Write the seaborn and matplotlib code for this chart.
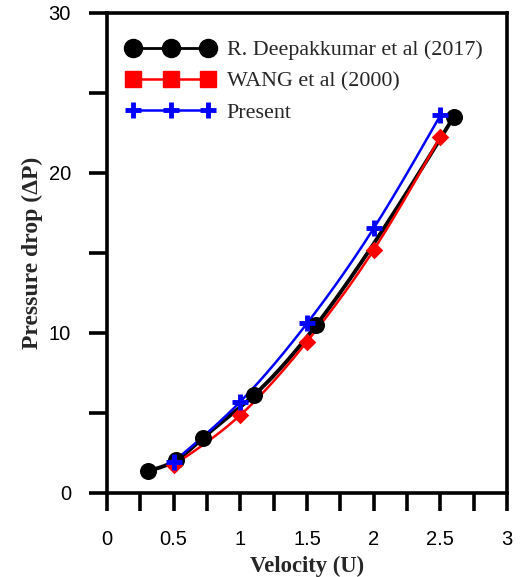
import numpy as np
import pandas as pd
import seaborn as sns
import matplotlib
matplotlib.use("Agg")
import matplotlib.pyplot as plt
from matplotlib.lines import Line2D

# Pressure drop against inlet velocity for three data sets
deepak_u = [0.31, 0.52, 0.72, 1.10, 1.57, 2.60]
deepak_dp = [1.39, 2.06, 3.44, 6.10, 10.50, 23.50]

wang_u = [0.5, 1.0, 1.5, 2.0, 2.5]
wang_dp = [1.75, 4.87, 9.46, 15.19, 22.27]

present_u = [0.5, 1.0, 1.5, 2.0, 2.5]
present_dp = [1.96, 5.71, 10.60, 16.54, 23.60]

series_names = ["R. Deepakkumar et al (2017)", "WANG et al (2000)", "Present"]
x_ticks = [0, 0.5, 1, 1.5, 2, 2.5, 3]
y_ticks = [0, 10, 20, 30]


def natural_spline(x, y, n=200):
    """Smooth curve through the given points (natural cubic spline)."""
    x = np.asarray(x, float)
    y = np.asarray(y, float)
    m = len(x)
    h = np.diff(x)
    A = np.zeros((m, m))
    b = np.zeros(m)
    A[0, 0] = A[-1, -1] = 1.0
    for i in range(1, m - 1):
        A[i, i - 1] = h[i - 1]
        A[i, i] = 2 * (h[i - 1] + h[i])
        A[i, i + 1] = h[i]
        b[i] = 3 * ((y[i + 1] - y[i]) / h[i] - (y[i] - y[i - 1]) / h[i - 1])
    c = np.linalg.solve(A, b)
    xs = np.linspace(x[0], x[-1], n)
    idx = np.clip(np.searchsorted(x, xs) - 1, 0, m - 2)
    dx = xs - x[idx]
    bb = (y[idx + 1] - y[idx]) / h[idx] - h[idx] * (2 * c[idx] + c[idx + 1]) / 3
    dd = (c[idx + 1] - c[idx]) / (3 * h[idx])
    ys = y[idx] + bb * dx + c[idx] * dx ** 2 + dd * dx ** 3
    return xs, ys


sns.set_theme(style="white")
plt.rcParams["font.family"] = ["Liberation Sans", "DejaVu Sans"]

fig = plt.figure(figsize=(5.2, 5.77), dpi=100)
ax = fig.add_axes([0.2058, 0.1456, 0.7692, 0.8319])

df_deepak = pd.DataFrame({"u": deepak_u, "dp": deepak_dp})
df_wang = pd.DataFrame({"u": wang_u, "dp": wang_dp})
df_present = pd.DataFrame({"u": present_u, "dp": present_dp})

# smooth connecting curves
for df, col, lw in [(df_deepak, "black", 2.8), (df_wang, "#ff0000", 1.8),
                    (df_present, "#0000ff", 1.8)]:
    xs, ys = natural_spline(df["u"], df["dp"])
    ax.plot(xs, ys, color=col, lw=lw, zorder=2, solid_capstyle="round")

# markers
sns.scatterplot(data=df_deepak, x="u", y="dp", ax=ax, marker="o", s=150,
                color="black", edgecolor="black", linewidth=0, zorder=3)
sns.scatterplot(data=df_wang, x="u", y="dp", ax=ax, marker="D", s=80,
                color="#ff0000", edgecolor="#ff0000", linewidth=0, zorder=4)
ax.plot(df_present["u"], df_present["dp"], ls="none", marker="+",
        ms=12, mew=3.5, color="#0000ff", zorder=5)

all_x = np.arange(0, 3.01, 0.25)
all_y = np.arange(0, 30.1, 5)
ax.set_xlim(0, 3)
ax.set_ylim(0, 30)
ax.set_xticks(all_x)
ax.set_xticklabels([("%g" % v) if v in x_ticks else "" for v in all_x])
ax.set_yticks(all_y)
ax.set_yticklabels([("%g" % v) if v in y_ticks else "" for v in all_y])

ax.tick_params(axis="both", direction="out", length=13, width=2.6,
               labelsize=14.5, colors="black")
ax.tick_params(axis="x", pad=13.5)
ax.tick_params(axis="y", pad=13)
ax.tick_params(axis="both", which="both", bottom=True, left=True,
               top=False, right=False)
for sp in ax.spines.values():
    sp.set_linewidth(2.6)
    sp.set_color("black")
    sp.set_visible(True)

ax.set_xlabel("Velocity (U)", family=["Liberation Serif"], fontweight="bold",
              fontsize=16.3, labelpad=5)
ax.set_ylabel("Pressure drop (\u0394P)", family=["Liberation Serif"],
              fontweight="bold", fontsize=17, labelpad=4)

handles = [
    Line2D([], [], color="black", lw=2, marker="o", ms=13),
    Line2D([], [], color="#ff0000", lw=1.8, marker="s", ms=11),
    Line2D([], [], color="#0000ff", lw=1.8, marker="+", ms=12, mew=3.5),
]
leg = ax.legend(handles, series_names, loc="upper left", numpoints=3,
                handlelength=4.0, handletextpad=0.55, labelspacing=0.5,
                frameon=False, bbox_to_anchor=(0.0, 0.985),
                prop={"family": "Liberation Serif", "size": 15.8})

fig.savefig("out.png", dpi=100, facecolor="white")
